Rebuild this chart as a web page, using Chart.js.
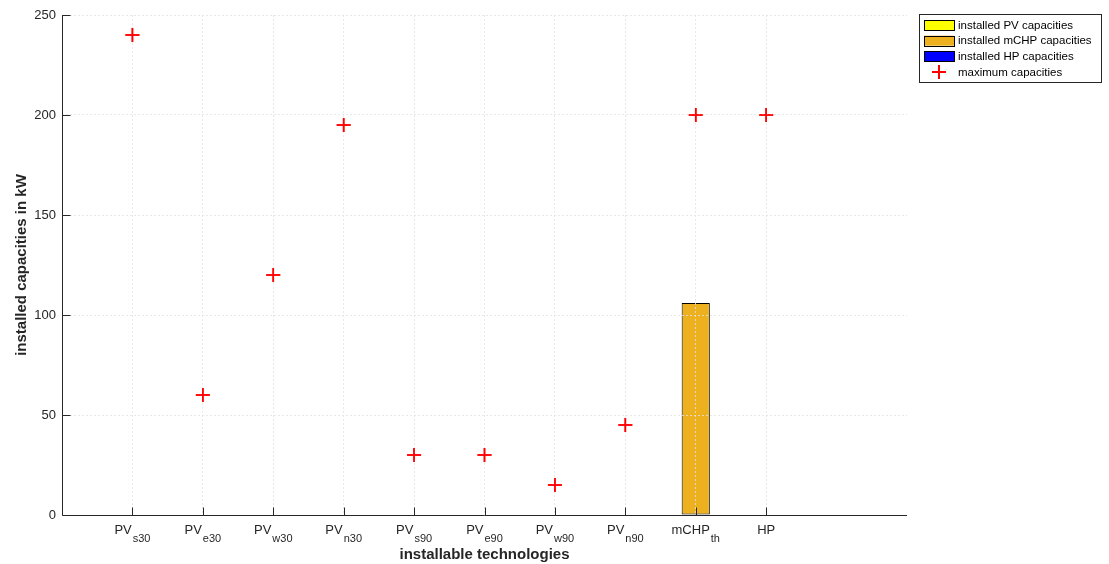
<!DOCTYPE html>
<html>
<head>
<meta charset="utf-8">
<title>Installed capacities</title>
<script src="https://cdn.jsdelivr.net/npm/chart.js@4.4.1/dist/chart.umd.min.js"></script>
<style>
  html, body { margin: 0; padding: 0; background: #ffffff; }
  #wrap { width: 1109px; height: 564px; position: relative; }
</style>
</head>
<body>
<div id="wrap"><canvas id="chart" width="1109" height="564"></canvas></div>
<script>
// Technology labels: main text and subscript
const categoryMain = ['PV', 'PV', 'PV', 'PV', 'PV', 'PV', 'PV', 'PV', 'mCHP', 'HP'];
const categorySub  = ['s30', 'e30', 'w30', 'n30', 's90', 'e90', 'w90', 'n90', 'th', ''];

// Capacities in kW, one entry per technology
const maxCapacity   = [240, 60, 120, 195, 30, 30, 15, 45, 200, 200];
const installedPV   = [0, 0, 0, 0, 0, 0, 0, 0, null, null];
const installedMCHP = [null, null, null, null, null, null, null, null, 106, null];
const installedHP   = [null, null, null, null, null, null, null, null, null, 0];

const yTicks = [0, 50, 100, 150, 200, 250];

const FONT = '"Liberation Sans", Arial, Helvetica, sans-serif';
const AXIS = '#262626';
const GRID = 'rgba(226,226,226,0.8)';

// The x axis runs from 0 to 12 with the technologies at positions 1..10
const pad = arr => [null, ...arr, null, null];
const labels = pad(categoryMain.map((m, i) => m + categorySub[i]));

const overlay = {
  id: 'axisDecor',
  afterDraw(chart) {
    const { ctx, chartArea: a, scales: { x, y } } = chart;

    // markers sit above the grid, which itself lies over the bars
    chart.data.datasets.forEach((ds, i) => {
      if (ds.type === 'line') chart.getDatasetMeta(i).controller.draw();
    });

    ctx.save();

    // axis lines (left and bottom only) and inward tick marks
    ctx.strokeStyle = AXIS;
    ctx.lineWidth = 1;
    ctx.beginPath();
    const left = Math.round(a.left) + 0.5;
    const bottom = Math.round(a.bottom) + 0.5;
    ctx.moveTo(left, Math.round(a.top));
    ctx.lineTo(left, bottom);
    ctx.lineTo(Math.round(a.right), bottom);
    categoryMain.forEach((_, i) => {
      const px = Math.round(x.getPixelForValue(i + 1)) + 0.5;
      ctx.moveTo(px, bottom);
      ctx.lineTo(px, bottom - 8);
    });
    yTicks.forEach(v => {
      const py = Math.round(y.getPixelForValue(v)) + 0.5;
      ctx.moveTo(left, py);
      ctx.lineTo(left + 8, py);
    });
    ctx.stroke();

    // technology labels with subscripts
    ctx.fillStyle = AXIS;
    ctx.textBaseline = 'alphabetic';
    ctx.textAlign = 'left';
    const mainFont = '13px ' + FONT;
    const subFont = '11px ' + FONT;
    categoryMain.forEach((m, i) => {
      ctx.font = mainFont;
      const wm = ctx.measureText(m).width;
      ctx.font = subFont;
      const ws = categorySub[i] ? ctx.measureText(categorySub[i]).width + 1 : 0;
      const cx = x.getPixelForValue(i + 1);
      const x0 = cx - (wm + ws) / 2;
      ctx.font = mainFont;
      ctx.fillText(m, x0, a.bottom + 19);
      if (categorySub[i]) {
        ctx.font = subFont;
        ctx.fillText(categorySub[i], x0 + wm + 1, a.bottom + 27);
      }
    });

    // legend
    const lx = 919.5, ly = 14.5, lw = 182, lh = 68;
    ctx.fillStyle = '#ffffff';
    ctx.fillRect(lx, ly, lw, lh);
    ctx.strokeStyle = AXIS;
    ctx.lineWidth = 1;
    ctx.strokeRect(lx, ly, lw, lh);
    ctx.font = '11.5px ' + FONT;
    ctx.textBaseline = 'middle';
    chart.data.datasets.forEach((ds, i) => {
      const cy = 25 + i * 15.7;
      if (ds.type === 'line') {
        ctx.strokeStyle = ds.borderColor;
        ctx.lineWidth = 2;
        ctx.beginPath();
        ctx.moveTo(932, cy); ctx.lineTo(946, cy);
        ctx.moveTo(939, cy - 7); ctx.lineTo(939, cy + 7);
        ctx.stroke();
      } else {
        ctx.fillStyle = ds.backgroundColor;
        ctx.fillRect(924, cy - 5, 30, 10);
        ctx.strokeStyle = '#000000';
        ctx.lineWidth = 1;
        ctx.strokeRect(924.5, Math.round(cy - 5) + 0.5, 30, 10);
      }
      ctx.fillStyle = '#000000';
      ctx.fillText(ds.label, 958, cy + 0.5);
    });

    ctx.restore();
  }
};

const barCommon = {
  type: 'bar',
  borderColor: '#000000',
  borderWidth: 1,
  borderSkipped: false,
  grouped: false,
  barPercentage: 0.4,
  categoryPercentage: 1.0,
  order: 2
};

new Chart(document.getElementById('chart'), {
  data: {
    labels: labels,
    datasets: [
      Object.assign({}, barCommon, { label: 'installed PV capacities', data: pad(installedPV), backgroundColor: '#ffff00' }),
      Object.assign({}, barCommon, { label: 'installed mCHP capacities', data: pad(installedMCHP), backgroundColor: '#edb120' }),
      Object.assign({}, barCommon, { label: 'installed HP capacities', data: pad(installedHP), backgroundColor: '#0000ff' }),
      {
        type: 'line',
        label: 'maximum capacities',
        data: pad(maxCapacity),
        showLine: false,
        borderColor: '#ff0000',
        backgroundColor: '#ff0000',
        pointStyle: 'cross',
        pointRadius: 7,
        pointBorderWidth: 1.6,
        order: 0
      }
    ]
  },
  options: {
    responsive: false,
    animation: false,
    devicePixelRatio: 1,
    layout: { padding: { left: 0, top: 15, right: 202, bottom: 0 } },
    plugins: { legend: { display: false }, tooltip: { enabled: false } },
    scales: {
      x: {
        type: 'category',
        offset: false,
        grid: {
          z: 1,
          offset: false,
          drawTicks: false,
          color: c => (c.index >= 1 && c.index <= 10) ? GRID : 'rgba(0,0,0,0)',
          lineWidth: 1
        },
        border: { display: false, dash: [2, 2] },
        ticks: { callback: () => '', autoSkip: false, maxRotation: 0 },
        title: {
          display: true,
          text: 'installable technologies',
          color: AXIS,
          font: { family: FONT, size: 15, weight: 'bold' },
          padding: { top: 0, bottom: 0 }
        },
        afterFit: s => { s.height = 49; s.paddingLeft = 0; s.paddingRight = 0; }
      },
      y: {
        min: 0,
        max: 250,
        grid: {
          z: 1,
          drawTicks: false,
          color: GRID,
          lineWidth: 1
        },
        border: { display: false, dash: [2, 2] },
        afterBuildTicks: s => { s.ticks = yTicks.map(v => ({ value: v })); },
        ticks: {
          color: AXIS,
          padding: 6,
          font: { family: FONT, size: 13 }
        },
        title: {
          display: true,
          text: 'installed capacities in kW',
          color: AXIS,
          font: { family: FONT, size: 15, weight: 'bold' },
          padding: { top: 13, bottom: 0 }
        },
        afterFit: s => { s.width = 62; s.paddingTop = 0; s.paddingBottom = 0; }
      }
    }
  },
  plugins: [overlay]
});
</script>
</body>
</html>
